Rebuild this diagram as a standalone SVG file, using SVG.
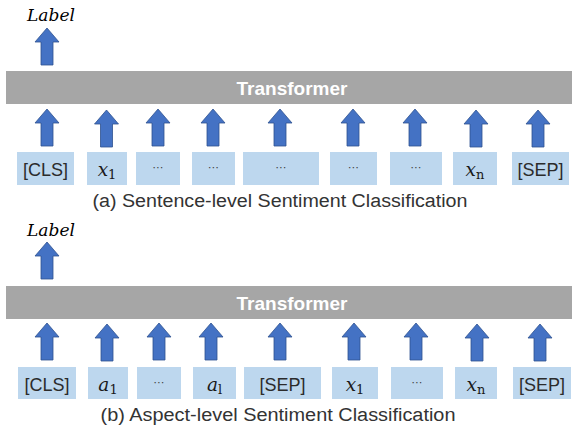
<svg xmlns="http://www.w3.org/2000/svg" xmlns:xlink="http://www.w3.org/1999/xlink" width="572" height="430" viewBox="0 0 572 430">
<defs>
<style>
.bar{fill:#a6a6a6}
.bt{font-family:"Liberation Sans",Arial,sans-serif;font-weight:bold;font-size:19px;fill:#ffffff;text-anchor:middle}
.box{fill:#bdd7ee}
.tk{font-family:"Liberation Sans",Arial,sans-serif;font-size:18px;fill:#2b2b2b;text-anchor:middle}
.mt{font-family:"DejaVu Serif","Liberation Serif",serif;font-style:italic;font-size:18.5px;fill:#1a1a1a;text-anchor:middle}
.sub{font-style:normal;font-size:13px}
.dots{font-family:"DejaVu Sans",sans-serif;font-size:11px;fill:#404040;text-anchor:middle}
.cap{font-family:"Liberation Sans",Arial,sans-serif;font-size:18px;fill:#333333;text-anchor:middle}
.lab{font-family:"DejaVu Serif","Liberation Serif",serif;font-style:italic;font-size:17.5px;fill:#000;text-anchor:middle}
.arr{fill:#4472c4;stroke:#2f528f;stroke-width:0.8}
</style>
<path id="arr" class="arr" d="M0,0 L12,14 L6,14 L6,37 L-6,37 L-6,14 L-12,14 Z"/>
</defs>
<rect width="572" height="430" fill="#ffffff"/>

<!-- Panel (a) -->
<g id="a-label"><text class="lab" x="51" y="21" textLength="48" lengthAdjust="spacingAndGlyphs">Label</text></g>
<g id="a-transformer"><rect class="bar" x="6" y="71" width="566" height="33"/><text class="bt" x="292" y="95">Transformer</text></g>
<g id="a-cls"><rect class="box" x="17" y="152" width="57" height="33"/><text class="tk" x="45.5" y="176">[CLS]</text></g>
<g id="a-x1"><rect class="box" x="87" y="152" width="40" height="33"/><text class="mt" x="107" y="176">x<tspan class="sub" dy="3">1</tspan></text></g>
<g id="a-d1"><rect class="box" x="136" y="152" width="44" height="33"/><text class="dots" x="158" y="171">⋯</text></g>
<g id="a-d2"><rect class="box" x="192" y="152" width="43" height="33"/><text class="dots" x="213.5" y="171">⋯</text></g>
<g id="a-d3"><rect class="box" x="243" y="152" width="76" height="33"/><text class="dots" x="281" y="171">⋯</text></g>
<g id="a-d4"><rect class="box" x="330" y="152" width="47" height="33"/><text class="dots" x="353.5" y="171">⋯</text></g>
<g id="a-d5"><rect class="box" x="390" y="152" width="52" height="33"/><text class="dots" x="416" y="171">⋯</text></g>
<g id="a-xn"><rect class="box" x="453" y="152" width="44" height="33"/><text class="mt" x="475" y="176">x<tspan class="sub" dy="3">n</tspan></text></g>
<g id="a-sep"><rect class="box" x="512" y="152" width="57" height="33"/><text class="tk" x="540.5" y="176">[SEP]</text></g>
<g id="a-caption"><text class="cap" x="280" y="207" textLength="375" lengthAdjust="spacingAndGlyphs">(a) Sentence-level Sentiment Classification</text></g>

<!-- Panel (b) -->
<g id="b-label"><text class="lab" x="51" y="236" textLength="48" lengthAdjust="spacingAndGlyphs">Label</text></g>
<g id="b-transformer"><rect class="bar" x="6" y="286" width="566" height="33"/><text class="bt" x="292" y="310">Transformer</text></g>
<g id="b-cls"><rect class="box" x="18" y="367" width="58" height="32"/><text class="tk" x="47" y="391">[CLS]</text></g>
<g id="b-a1"><rect class="box" x="88" y="367" width="40" height="32"/><text class="mt" x="108" y="391">a<tspan class="sub" dy="3">1</tspan></text></g>
<g id="b-d1"><rect class="box" x="137" y="367" width="44" height="32"/><text class="dots" x="159" y="386">⋯</text></g>
<g id="b-al"><rect class="box" x="193" y="367" width="43" height="32"/><text class="mt" x="214.5" y="391">a<tspan class="sub" dy="3" font-style="italic">l</tspan></text></g>
<g id="b-sep1"><rect class="box" x="244" y="367" width="77" height="32"/><text class="tk" x="282.5" y="391">[SEP]</text></g>
<g id="b-x1"><rect class="box" x="332" y="367" width="46" height="32"/><text class="mt" x="355" y="391">x<tspan class="sub" dy="3">1</tspan></text></g>
<g id="b-d2"><rect class="box" x="391" y="367" width="52" height="32"/><text class="dots" x="417" y="386">⋯</text></g>
<g id="b-xn"><rect class="box" x="455" y="367" width="42" height="32"/><text class="mt" x="476" y="391">x<tspan class="sub" dy="3">n</tspan></text></g>
<g id="b-sep2"><rect class="box" x="513" y="367" width="58" height="32"/><text class="tk" x="542" y="391">[SEP]</text></g>
<g id="b-caption"><text class="cap" x="278" y="421" textLength="355" lengthAdjust="spacingAndGlyphs">(b) Aspect-level Sentiment Classification</text></g>

<!-- Connectors -->
<g id="connectors">
<use xlink:href="#arr" x="47" y="28"/>
<use xlink:href="#arr" x="47" y="109"/>
<use xlink:href="#arr" x="106.5" y="110"/>
<use xlink:href="#arr" x="158" y="109"/>
<use xlink:href="#arr" x="213" y="109"/>
<use xlink:href="#arr" x="280" y="109"/>
<use xlink:href="#arr" x="353" y="109"/>
<use xlink:href="#arr" x="415" y="109"/>
<use xlink:href="#arr" x="476" y="110"/>
<use xlink:href="#arr" x="538" y="110"/>

<use xlink:href="#arr" x="47" y="242"/>
<use xlink:href="#arr" x="47" y="323"/>
<use xlink:href="#arr" x="107" y="324"/>
<use xlink:href="#arr" x="159" y="323"/>
<use xlink:href="#arr" x="211" y="323"/>
<use xlink:href="#arr" x="280" y="323"/>
<use xlink:href="#arr" x="354" y="323"/>
<use xlink:href="#arr" x="416" y="323"/>
<use xlink:href="#arr" x="477" y="324"/>
<use xlink:href="#arr" x="540" y="324"/>
</g>
</svg>
